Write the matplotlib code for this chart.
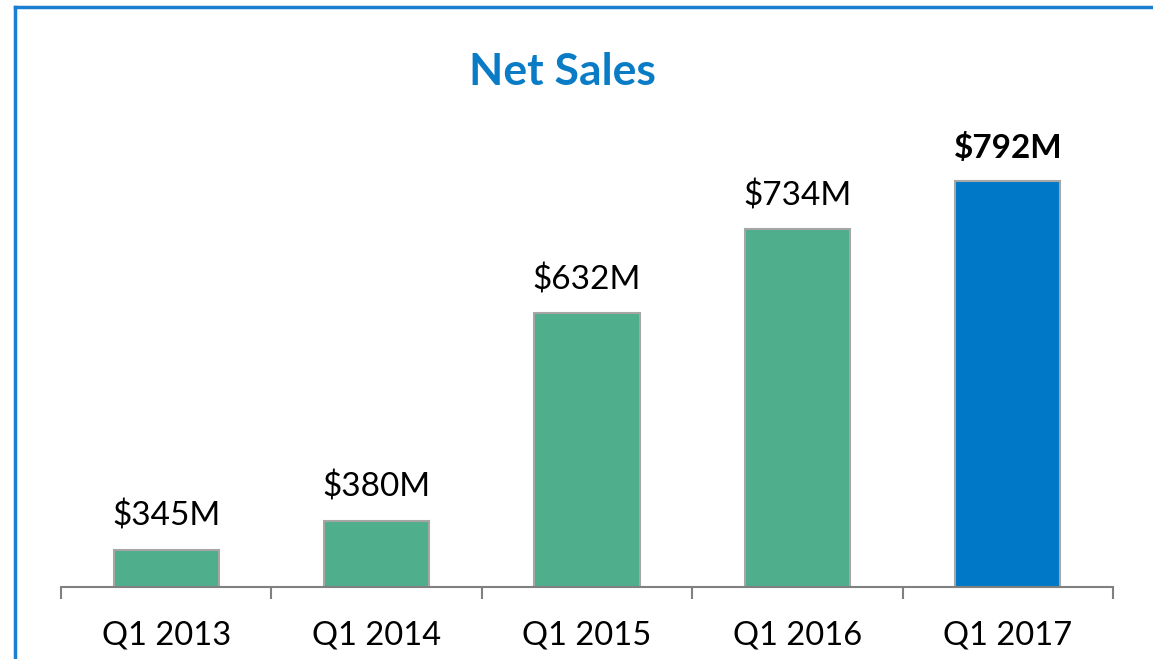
import matplotlib
matplotlib.use('Agg')
import matplotlib.pyplot as plt
from matplotlib.lines import Line2D
import numpy as np

plt.rcParams['font.family'] = ['Lato', 'DejaVu Sans']

categories = ['Q1 2013', 'Q1 2014', 'Q1 2015', 'Q1 2016', 'Q1 2017']
net_sales = [345, 380, 632, 734, 792]
value_labels = ['$345M', '$380M', '$632M', '$734M', '$792M']

GREEN = '#4FAE8C'
BLUE = '#0078C8'
EDGE = '#A6A6A6'

W, H = 1153, 659
fig = plt.figure(figsize=(W / 100, H / 100), dpi=100)

# frame line (left + top only visible in the crop)
fig.add_artist(Line2D([15 / W, 15 / W], [0, 1 - 7 / H], color='#1A7FD0', lw=2.5))
fig.add_artist(Line2D([15 / W, 1], [1 - 7 / H, 1 - 7 / H], color='#1A7FD0', lw=2.5))

ax_left, ax_right = 61 / W, 1113 / W
ax_bottom, ax_top = (H - 587) / H, (H - 140) / H
ax = fig.add_axes([ax_left, ax_bottom, ax_right - ax_left, ax_top - ax_bottom])

x = np.arange(len(categories))
colors = [GREEN] * (len(categories) - 1) + [BLUE]
bars = ax.bar(x, net_sales, width=0.5, color=colors, edgecolor=EDGE, linewidth=1.5)

for i, (bar, label) in enumerate(zip(bars, value_labels)):
    ax.annotate(
        label,
        xy=(bar.get_x() + bar.get_width() / 2, bar.get_height()),
        xytext=(0, 13),
        textcoords='offset points',
        ha='center',
        va='bottom',
        fontsize=24,
        weight='bold' if i == len(bars) - 1 else 'normal',
    )

ax.set_xlim(-0.5, len(categories) - 0.5)
ax.set_ylim(300, 842)
ax.set_xticks(x)
ax.set_xticklabels(categories, fontsize=23.5)
ax.set_xticks(np.arange(-0.5, len(categories)), minor=True)
ax.tick_params(axis='x', which='major', length=0, pad=24)
ax.tick_params(axis='x', which='minor', length=8.5, width=1.5, color='#808080', direction='out')
ax.set_yticks([])
for side in ['top', 'right', 'left']:
    ax.spines[side].set_visible(False)
ax.spines['bottom'].set_color('#808080')
ax.spines['bottom'].set_linewidth(1.5)

fig.text(562 / W, 1 - 72 / H, 'Net Sales', ha='center', va='center',
         fontsize=32, weight='bold', color='#0A7CC6')

fig.savefig('out.png', dpi=100)
